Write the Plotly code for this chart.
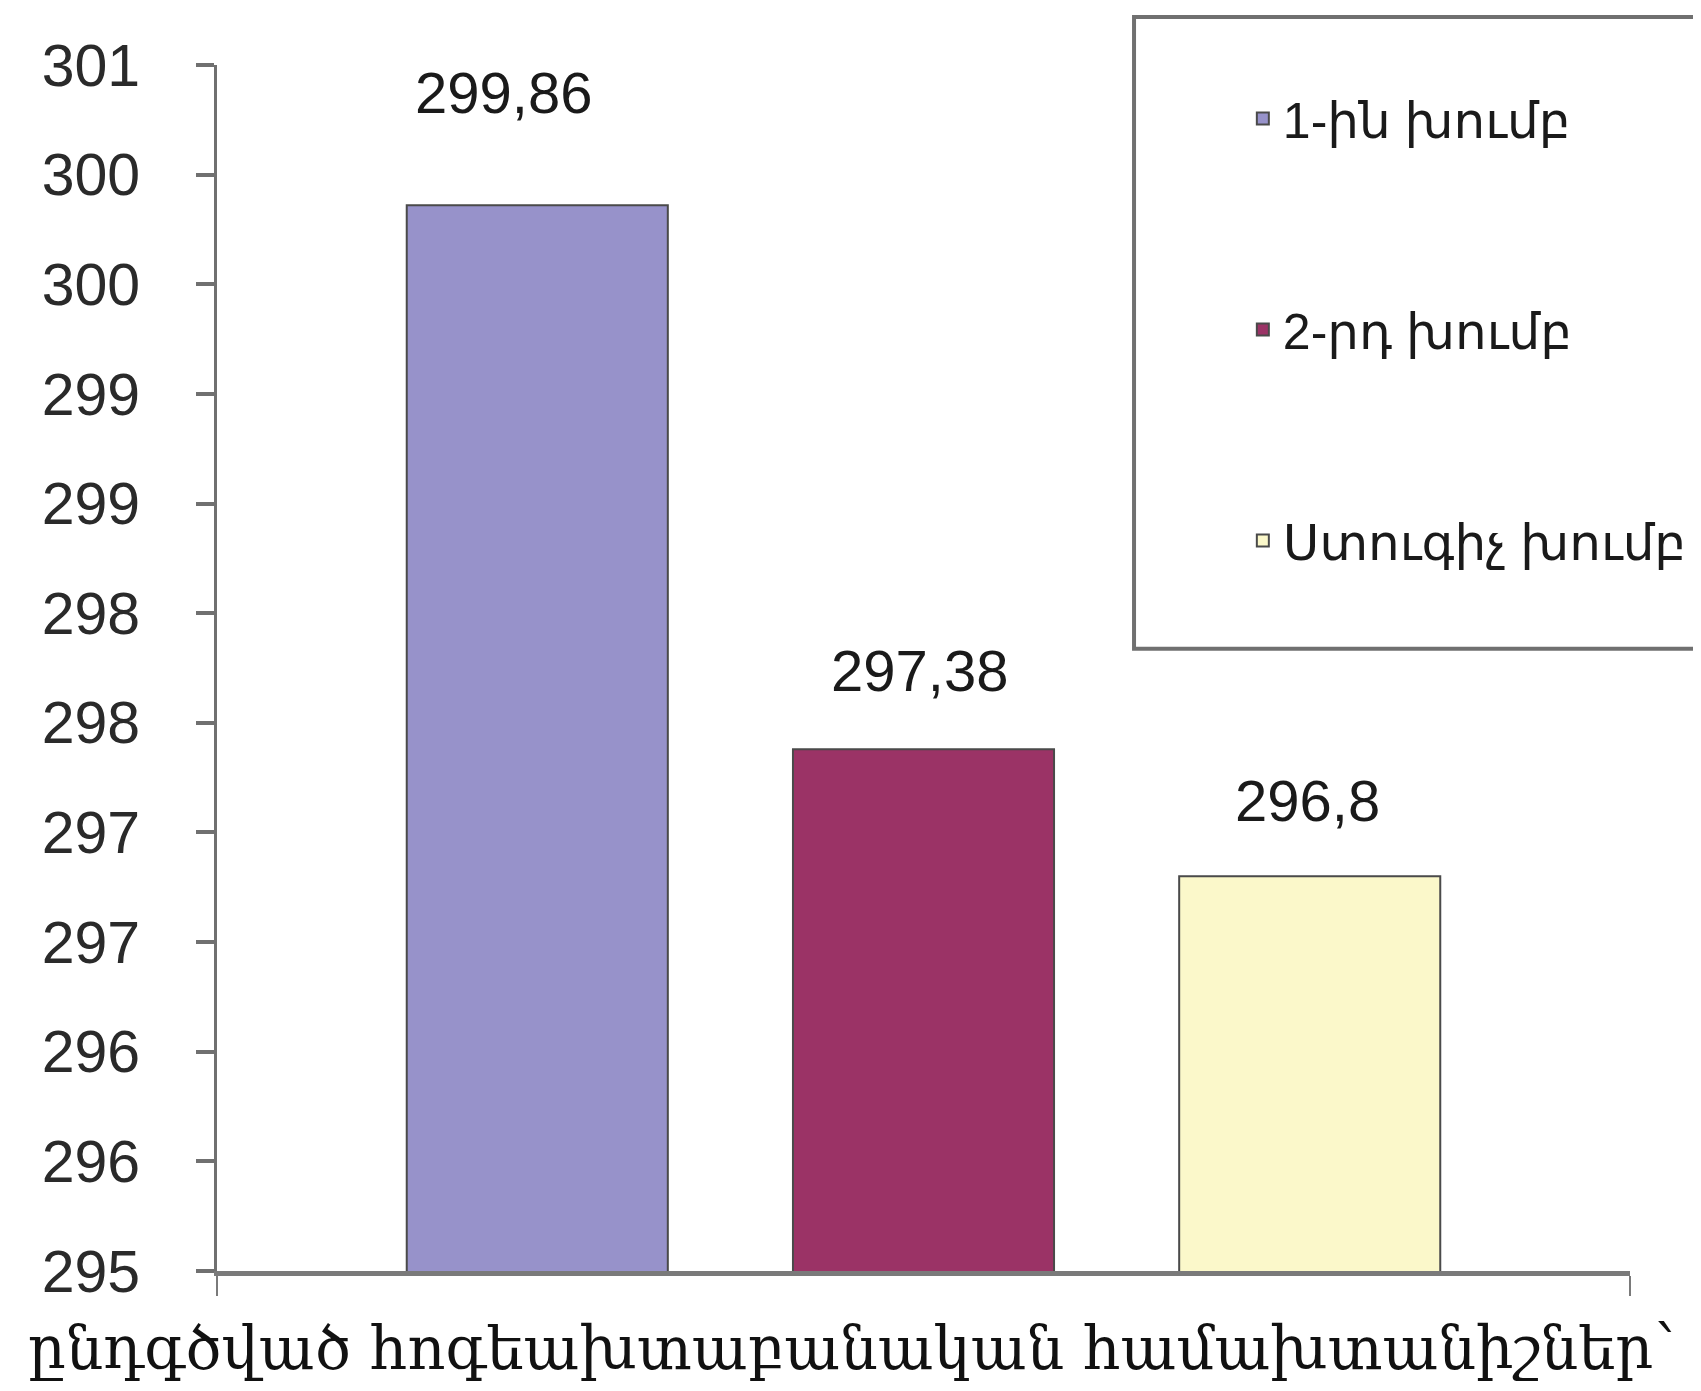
import plotly.graph_objects as go

category = ["ընդգծված հոգեախտաբանական համախտանիշներ՝"]
series_names = ["1-ին խումբ", "2-րդ խումբ", "Ստուգիչ խումբ"]
values = [299.86, 297.38, 296.8]
value_labels = ["299,86", "297,38", "296,8"]
colors = ["#9792CA", "#9B3366", "#FBF8CA"]
y_tickvals = [295, 295.5, 296, 296.5, 297, 297.5, 298, 298.5, 299, 299.5, 300, 300.5]
y_ticktext = ["295", "296", "296", "297", "297", "298", "298", "299", "299", "300", "300", "301"]

# label offsets in pixels (styling)
label_shifts = [(-420, 113), (-4, 79), (384, 76)]

fig = go.Figure()
for name, v, c in zip(series_names, values, colors):
    fig.add_trace(go.Bar(
        x=category, y=[v], name=name, legendgroup=name,
        marker=dict(color=c, line=dict(color="#4a4a4a", width=2)),
    ))

for i, (v, t) in enumerate(zip(values, value_labels)):
    xs, ys = label_shifts[i]
    fig.add_annotation(x=category[0], y=v, text=t, showarrow=False,
                       xshift=xs, yshift=ys, yanchor="middle",
                       font=dict(family="Liberation Sans, Arial", size=58, color="#1a1a1a"))

fig.add_shape(type="rect", xref="paper", yref="paper",
              x0=0.6490, x1=1.12, y0=0.516, y1=1.0398,
              line=dict(color="#707070", width=4), fillcolor="rgba(0,0,0,0)")

fig.update_layout(
    width=1701, height=1391,
    margin=dict(l=209, r=79, t=57, b=128, autoexpand=False),
    paper_bgcolor="white", plot_bgcolor="white",
    barmode="group", bargap=0.18, bargroupgap=0.324,
    showlegend=True,
    legend=dict(x=0.726, y=0.988, xanchor="left", yanchor="top",
                font=dict(family="Liberation Sans, DejaVu Sans", size=50, color="#1a1a1a"),
                tracegroupgap=143, bgcolor="rgba(0,0,0,0)", borderwidth=0,
                traceorder="grouped"),
    xaxis=dict(showline=True, linecolor="#7a7a7a", linewidth=5,
               ticks="outside", tickson="boundaries", ticklen=20, tickwidth=2,
               tickcolor="#7a7a7a", showgrid=False, automargin=False,
               tickangle=0,
               tickfont=dict(family="DejaVu Serif", size=59, color="#111111"),
               ticklabelstandoff=22, ticklabelshift=-72),
    yaxis=dict(range=[295, 300.5], tickvals=y_tickvals, ticktext=y_ticktext,
               showline=True, linecolor="#707070", linewidth=3,
               ticks="outside", ticklen=18, tickwidth=4, tickcolor="#707070",
               showgrid=False, zeroline=False, automargin=False,
               tickfont=dict(family="Liberation Sans, Arial", size=59, color="#2a2a2a"),
               ticklabelstandoff=44),
)

fig.write_html("out.html")
